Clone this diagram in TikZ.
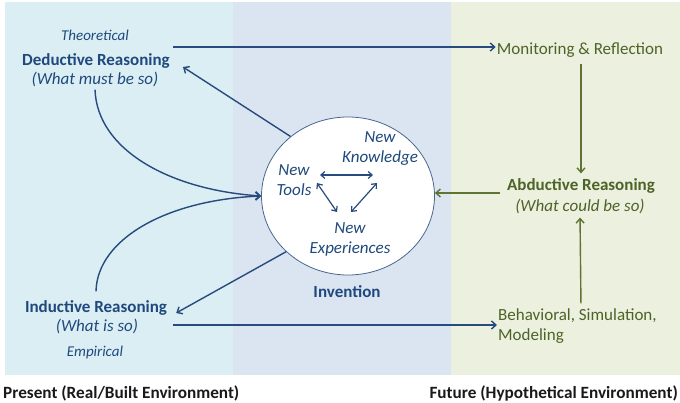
\documentclass[tikz,border=0pt]{standalone}
\usepackage{fontspec}
\setmainfont{Carlito}
\usetikzlibrary{arrows.meta,shapes.geometric}
\definecolor{panelA}{RGB}{219,238,244}
\definecolor{panelB}{RGB}{219,229,241}
\definecolor{panelC}{RGB}{235,241,222}
\definecolor{bluetxt}{RGB}{31,73,125}
\definecolor{blueln}{RGB}{40,75,125}
\definecolor{greentxt}{RGB}{79,98,40}
\definecolor{greenln}{RGB}{94,116,48}
\begin{document}
\begin{tikzpicture}[x=1pt,y=-1pt,
  base/.style={inner sep=1pt, align=center},
  bluebold/.style={base, text=bluetxt, font=\fontsize{17}{20}\selectfont\bfseries},
  blueit/.style={base, text=bluetxt, font=\fontsize{17}{20}\selectfont\itshape},
  bluesmall/.style={base, text=bluetxt, font=\fontsize{15}{18}\selectfont\itshape},
  greenreg/.style={base, text=greentxt, font=\fontsize{17}{20}\selectfont},
  greenbold/.style={base, text=greentxt, font=\fontsize{17}{20}\selectfont\bfseries},
  greenit/.style={base, text=greentxt, font=\fontsize{17}{20}\selectfont\itshape},
  bottomlbl/.style={base, text=black!90, font=\fontsize{17.2}{20}\selectfont\bfseries},
  tip/.style={-{Straight Barb[length=4.5pt,width=8pt,line width=1.4pt]}},
  bluearrow/.style={draw=blueln, line width=1.4pt, tip},
  greenarrow/.style={draw=greenln, line width=1.4pt, tip},
  innerarrow/.style={draw=blueln, line width=1.2pt, {Straight Barb[length=4pt,width=7pt]}-{Straight Barb[length=4pt,width=7pt]}},
]
\useasboundingbox (0,0) rectangle (680,403);
\fill[panelA] (5,2) rectangle (233,375);
\fill[panelB] (233,2) rectangle (451,375);
\fill[panelC] (451,2) rectangle (680,375);

% left column
\node[bluesmall] (theo) at (95,35) {Theoretical};
\node[bluebold] (ded) at (96,61) {Deductive Reasoning};
\node[blueit] (dedsub) at (95,79) {(What must be so)};
\node[bluebold] (ind) at (96,308) {Inductive Reasoning};
\node[blueit] (indsub) at (97,326) {(What is so)};
\node[bluesmall] (emp) at (95,353) {Empirical};

% invention circle
\node[ellipse, draw=blueln!85, line width=0.8pt, fill=white,
      minimum width=173pt, minimum height=158pt, inner sep=0pt] (inv) at (348,196) {};
\node[bluebold] (invlbl) at (347,292) {Invention};
\node[blueit] (tools) at (294,180) {New\\Tools};
\node[blueit] (know) at (380,149) {New\\Knowledge};
\node[blueit] (exp) at (350,239) {New\\Experiences};

\coordinate (tk1) at (320,175);
\coordinate (tk2) at (373,175);
\coordinate (te1) at (317,183);
\coordinate (te2) at (337,212);
\coordinate (ke1) at (377,183);
\coordinate (ke2) at (351,212);
\draw[innerarrow] (tk1) -- (tk2);
\draw[innerarrow] (te1) -- (te2);
\draw[innerarrow] (ke1) -- (ke2);

% right column
\node[greenreg] (mon) at (580,50) {Monitoring \& Reflection};
\node[greenbold] (abd) at (581,186) {Abductive Reasoning};
\node[greenit] (abdsub) at (580,206) {(What could be so)};
\node[greenreg, align=left, anchor=west] (beh) at (497,326) {Behavioral, Simulation,\\Modeling};

% bottom labels
\node[bottomlbl, anchor=west] (present) at (2,393) {Present (Real/Built Environment)};
\node[bottomlbl, anchor=east] (future) at (679,393) {Future (Hypothetical Environment)};

% connectors
\coordinate (tstart) at (173,47);
\draw[bluearrow] (tstart) -- (tstart -| mon.west);
\coordinate (bstart) at (173,325);
\draw[bluearrow] (bstart) -- (bstart -| beh.west);

\draw[bluearrow] (inv.134) -- ([xshift=12pt,yshift=-6pt]ded.east);
\draw[bluearrow] (inv.222) -- ([xshift=8pt,yshift=-5pt]ind.east);

\draw[bluearrow] ([yshift=-2pt]dedsub.south) .. controls (97,150) and (170,190) .. (inv.west);
\draw[bluearrow] ([yshift=8pt]ind.north) .. controls (97,240) and (165,200) .. (inv.west);

\draw[greenarrow, shorten <=5pt, shorten >=4pt] (mon.south -| abd) -- (abd.north);
\draw[greenarrow, shorten <=4pt, shorten >=3pt] (beh.north -| abd) -- (abdsub.south);
\coordinate (abdin) at (500,193);
\draw[greenarrow] (abdin) -- (abdin -| inv.east);
\end{tikzpicture}
\end{document}
